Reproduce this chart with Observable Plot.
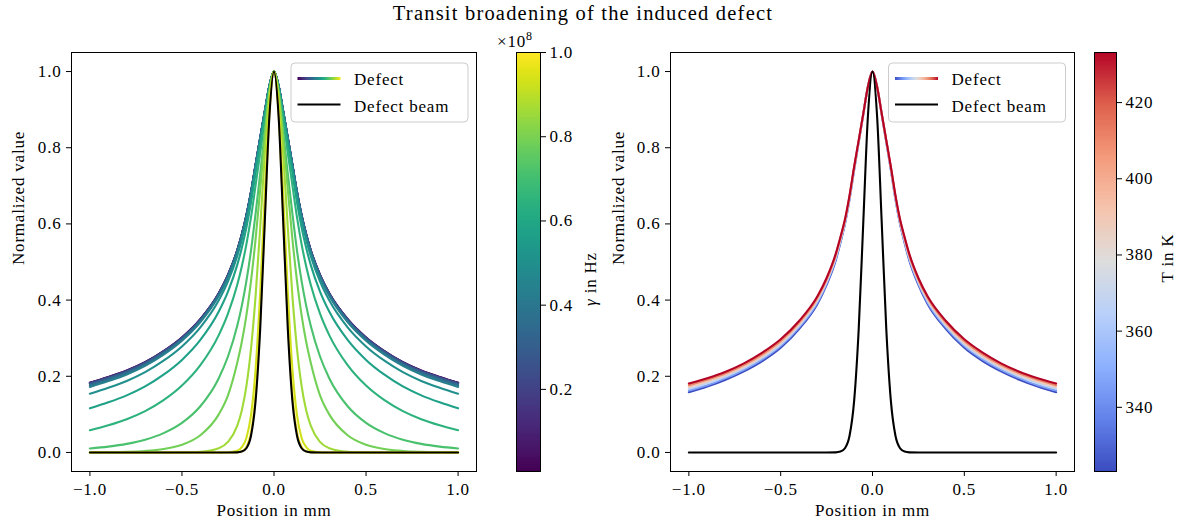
<!DOCTYPE html>
<html><head><meta charset="utf-8">
<script src="https://cdn.jsdelivr.net/npm/d3@7"></script>
<script src="https://cdn.jsdelivr.net/npm/@observablehq/plot@0.6"></script>
<style>
body{margin:0;background:#fff}
#fig{position:relative;width:1187px;height:529px;overflow:hidden;background:#fff}
#fig svg{position:absolute}
</style></head>
<body><div id="fig"></div>
<script>
// ---------- data ----------
const positionsHalf = [0, 0.025, 0.05, 0.075, 0.1, 0.125, 0.15, 0.175, 0.2, 0.25, 0.3, 0.4, 0.5, 0.6, 0.7, 0.8, 0.9, 1.0]; // mm, profiles are symmetric
const xTicks = [-1.0, -0.5, 0.0, 0.5, 1.0];
const yTicks = [0.0, 0.2, 0.4, 0.6, 0.8, 1.0];

// left panel: gamma in units of 1e8 Hz
const gammaValues = [0.005, 0.076, 0.147, 0.218, 0.289, 0.36, 0.431, 0.502, 0.574, 0.645, 0.716, 0.787, 0.858, 0.929, 1.0];
const gammaRange = [0.005, 1.0];
const gammaTicks = [0.2, 0.4, 0.6, 0.8, 1.0];
const defectProfilesGamma = [
  [1, .962, .895, .825, .755, .683, .622, .572, .530, .466, .418, .350, .302, .266, .237, .215, .198, .183],
  [1, .962, .895, .825, .755, .683, .622, .572, .530, .4659, .4178, .3498, .3018, .2657, .2367, .2147, .1977, .1827],
  [1, .962, .895, .825, .755, .683, .622, .572, .5298, .4655, .4175, .3494, .3013, .2653, .2362, .2142, .1972, .1821],
  [1, .962, .895, .825, .7547, .6826, .6213, .5713, .5292, .4650, .4169, .3488, .3006, .2645, .2355, .2134, .1963, .1813],
  [1, .9619, .8946, .8243, .7541, .6818, .6207, .5705, .5283, .4641, .4159, .3475, .2993, .2631, .2339, .2118, .1947, .1796],
  [1, .9618, .8943, .8237, .7531, .6807, .6193, .5690, .5267, .4622, .4138, .3451, .2966, .2602, .2309, .2086, .1914, .1762],
  [1, .9616, .8938, .8229, .7520, .6793, .6176, .5671, .5246, .4598, .4112, .3421, .2932, .2566, .2272, .2047, .1873, .1720],
  [1, .9610, .8917, .8191, .7466, .6727, .6100, .5586, .5153, .4491, .3993, .3284, .2784, .2408, .2108, .1878, .1699, .1542],
  [1, .9593, .8861, .8093, .7329, .6558, .5905, .5369, .4917, .4223, .3700, .2954, .2430, .2041, .1733, .1499, .1316, .1159],
  [1, .9552, .8730, .7862, .7010, .6171, .5463, .4882, .4394, .3644, .3081, .2291, .1755, .1371, .1084, .0872, .0713, .0584],
  [1, .9451, .8411, .7315, .6272, .5299, .4497, .3849, .3317, .2519, .1950, .1213, .0777, .0508, .0335, .0225, .0154, .0105],
  [1, .945, .83, .69, .56, .45, .36, .29, .235, .15, .10, .045, .02, .009, .004, .0018, .0008, .0004],
  [1, .940, .784, .591, .411, .272, .174, .110, .0696, .0276, .011, .0017, .0003, 0, 0, 0, 0, 0],
  [1, .907, .678, .420, .219, .098, .038, .014, .0045, .0005, 0, 0, 0, 0, 0, 0, 0, 0],
  [1, .889, .624, .346, .152, .053, .0144, .0031, .0005, 0, 0, 0, 0, 0, 0, 0, 0, 0]
];
const beamProfile = [1, .8825, .6065, .3247, .1353, .0439, .0111, .0022, .0003, 0, 0, 0, 0, 0, 0, 0, 0, 0];

// right panel: temperature in K
const tempValues = [323.15, 345.15, 367.15, 389.15, 411.15, 433.15];
const tempRange = [323.15, 433.15];
const tempTicks = [340, 360, 380, 400, 420];
const defectProfilesTemp = [
  [1, .96, .888, .815, .742, .665, .60, .55, .505, .44, .39, .324, .275, .24, .213, .191, .173, .158],
  [1, .96, .8884, .816, .7436, .667, .6024, .553, .5084, .4436, .394, .3282, .2794, .2444, .2172, .1952, .1764, .1626],
  [1, .96, .8888, .817, .7452, .669, .6048, .556, .5118, .4472, .398, .3324, .2838, .2488, .2214, .1994, .1818, .1672],
  [1, .96, .8892, .818, .7468, .671, .6072, .559, .5152, .4508, .402, .3366, .2882, .2532, .2256, .2036, .1862, .1718],
  [1, .96, .8896, .819, .7484, .673, .6096, .562, .5186, .4544, .406, .3408, .2926, .2576, .2298, .2078, .1906, .1764],
  [1, .96, .89, .82, .75, .675, .612, .565, .522, .458, .41, .345, .297, .262, .234, .212, .195, .181]
];

// ---------- helpers ----------
const FONT = "'Liberation Serif','Times New Roman',serif";
const STYLE = `font-family:${FONT};font-size:17px;letter-spacing:0.8px;background:transparent;overflow:visible;color:#000`;
const coolwarm = d3.piecewise(d3.interpolateRgb, ["#3b4cc0","#6282ea","#8db0fe","#b8d0f9","#dddddd","#f5c4ad","#f49a7b","#de604d","#b40426"]);
const fmt1 = d3.format(".1f");

function symmetric(vals, extra) {
  const neg = positionsHalf.map((p, i) => ({x: -p, y: vals[i], ...extra})).reverse();
  const pos = positionsHalf.slice(1).map((p, i) => ({x: p, y: vals[i + 1], ...extra}));
  return neg.concat(pos);
}
const gammaTable = gammaValues.flatMap((g, k) => symmetric(defectProfilesGamma[k], {c: g}));
const tempTable = tempValues.flatMap((t, k) => symmetric(defectProfilesTemp[k], {c: t}));
const beamTable = symmetric(beamProfile, {});

function panel(table, colorOpts, mLeft, mRight) {
  return Plot.plot({
    width: 480, height: 529, marginLeft: mLeft, marginRight: mRight, marginTop: 52, marginBottom: 58,
    style: STYLE,
    x: {domain: [-1.1, 1.1]}, y: {domain: [-0.05, 1.05]},
    color: colorOpts,
    marks: [
      Plot.line(table, {x: "x", y: "y", z: "c", stroke: "c", strokeWidth: 2.1, curve: "monotone-x"}),
      Plot.line(beamTable, {x: "x", y: "y", stroke: "black", strokeWidth: 2.1, curve: "monotone-x"}),
      Plot.frame({stroke: "black", strokeWidth: 1}),
      Plot.axisX(xTicks, {tickFormat: fmt1, tickSize: 5, tickPadding: 6, label: null}),
      Plot.axisY(yTicks, {tickFormat: fmt1, tickSize: 5, tickPadding: 5, label: null}),
      Plot.text(["Position in mm"], {text: d => d, frameAnchor: "bottom", dy: 44}),
      Plot.text(["Normalized value"], {text: d => d, frameAnchor: "left", dx: mLeft === 71 ? -53 : -52, dy: 3, rotate: -90})
    ]
  });
}

function colorbar(range, ticks, tickFmt, colorOpts, mLeft, barW, totalW) {
  const n = 240;
  const bands = d3.range(n).map(i => {
    const a = range[0] + (range[1] - range[0]) * i / n;
    const b = range[0] + (range[1] - range[0]) * (i + 1) / n;
    return {a, b, m: (a + b) / 2};
  });
  return Plot.plot({
    width: totalW, height: 529, marginLeft: mLeft, marginRight: totalW - mLeft - barW, marginTop: 52, marginBottom: 58,
    style: STYLE,
    x: {domain: [0, 1], axis: null}, y: {domain: range},
    color: colorOpts,
    marks: [
      Plot.rect(bands, {x1: d => 0, x2: d => 1, y1: "a", y2: "b", fill: "m", shapeRendering: "crispEdges"}),
      Plot.frame({stroke: "black", strokeWidth: 1}),
      Plot.axisY(ticks, {anchor: "right", tickFormat: tickFmt, tickSize: 5, tickPadding: 4, label: null})
    ]
  });
}

const fig = document.getElementById("fig");
const viridisOpts = {type: "linear", domain: gammaRange, interpolate: d3.interpolateViridis};
const coolOpts = {type: "linear", domain: tempRange, interpolate: coolwarm};

const left = panel(gammaTable, viridisOpts, 71, 4);
left.style.left = "0px"; left.style.top = "0px";
const right = panel(tempTable, coolOpts, 70, 6);
right.style.left = "600px"; right.style.top = "0px";
const cbL = colorbar(gammaRange, gammaTicks, fmt1, viridisOpts, 16, 24, 110);
cbL.style.left = "500px"; cbL.style.top = "0px";
const cbR = colorbar(tempRange, tempTicks, d => String(d), coolOpts, 14, 22, 107);
cbR.style.left = "1080px"; cbR.style.top = "0px";
[left, right, cbL, cbR].forEach(s => fig.appendChild(s));

// ---------- overlay: title, colorbar labels, legends ----------
const NS = "http://www.w3.org/2000/svg";
const ov = document.createElementNS(NS, "svg");
ov.setAttribute("width", 1187); ov.setAttribute("height", 529);
ov.style.left = "0px"; ov.style.top = "0px";
ov.style.fontFamily = FONT; ov.style.letterSpacing = "0.8px";
function grad(id, interp) {
  const stops = d3.range(0, 1.0001, 0.1).map(t => `<stop offset="${t}" stop-color="${d3.color(interp(t)).formatHex()}"/>`).join("");
  return `<linearGradient id="${id}" x1="0" x2="1" y1="0" y2="0">${stops}</linearGradient>`;
}
function legend(x, y, gid) {
  return `<g transform="translate(${x},${y})">
    <rect x="0" y="0" width="177" height="59" rx="4" fill="white" fill-opacity="0.8" stroke="#cccccc" stroke-width="1"/>
    <rect x="6.5" y="14" width="43" height="3" fill="url(#${gid})"/>
    <line x1="6.5" x2="49.5" y1="41.5" y2="41.5" stroke="black" stroke-width="2.2"/>
    <text x="63" y="22" font-size="17">Defect</text>
    <text x="63" y="49" font-size="17">Defect beam</text>
  </g>`;
}
ov.innerHTML = `<defs>${grad("gv", d3.interpolateViridis)}${grad("gc", coolwarm)}</defs>
  <text x="583" y="20" text-anchor="middle" font-size="20.5" style="letter-spacing:1.2px">Transit broadening of the induced defect</text>
  <text x="497" y="47" font-size="17">×10<tspan font-size="12" dy="-7">8</tspan></text>
  <text transform="translate(596,279) rotate(-90)" text-anchor="middle" font-size="17"><tspan font-style="italic">γ</tspan> in Hz</text>
  <text transform="translate(1173,258) rotate(-90)" text-anchor="middle" font-size="17">T in K</text>
  ${legend(291, 63, "gv")}
  ${legend(888.5, 63, "gc")}`;
fig.appendChild(ov);
</script></body></html>
